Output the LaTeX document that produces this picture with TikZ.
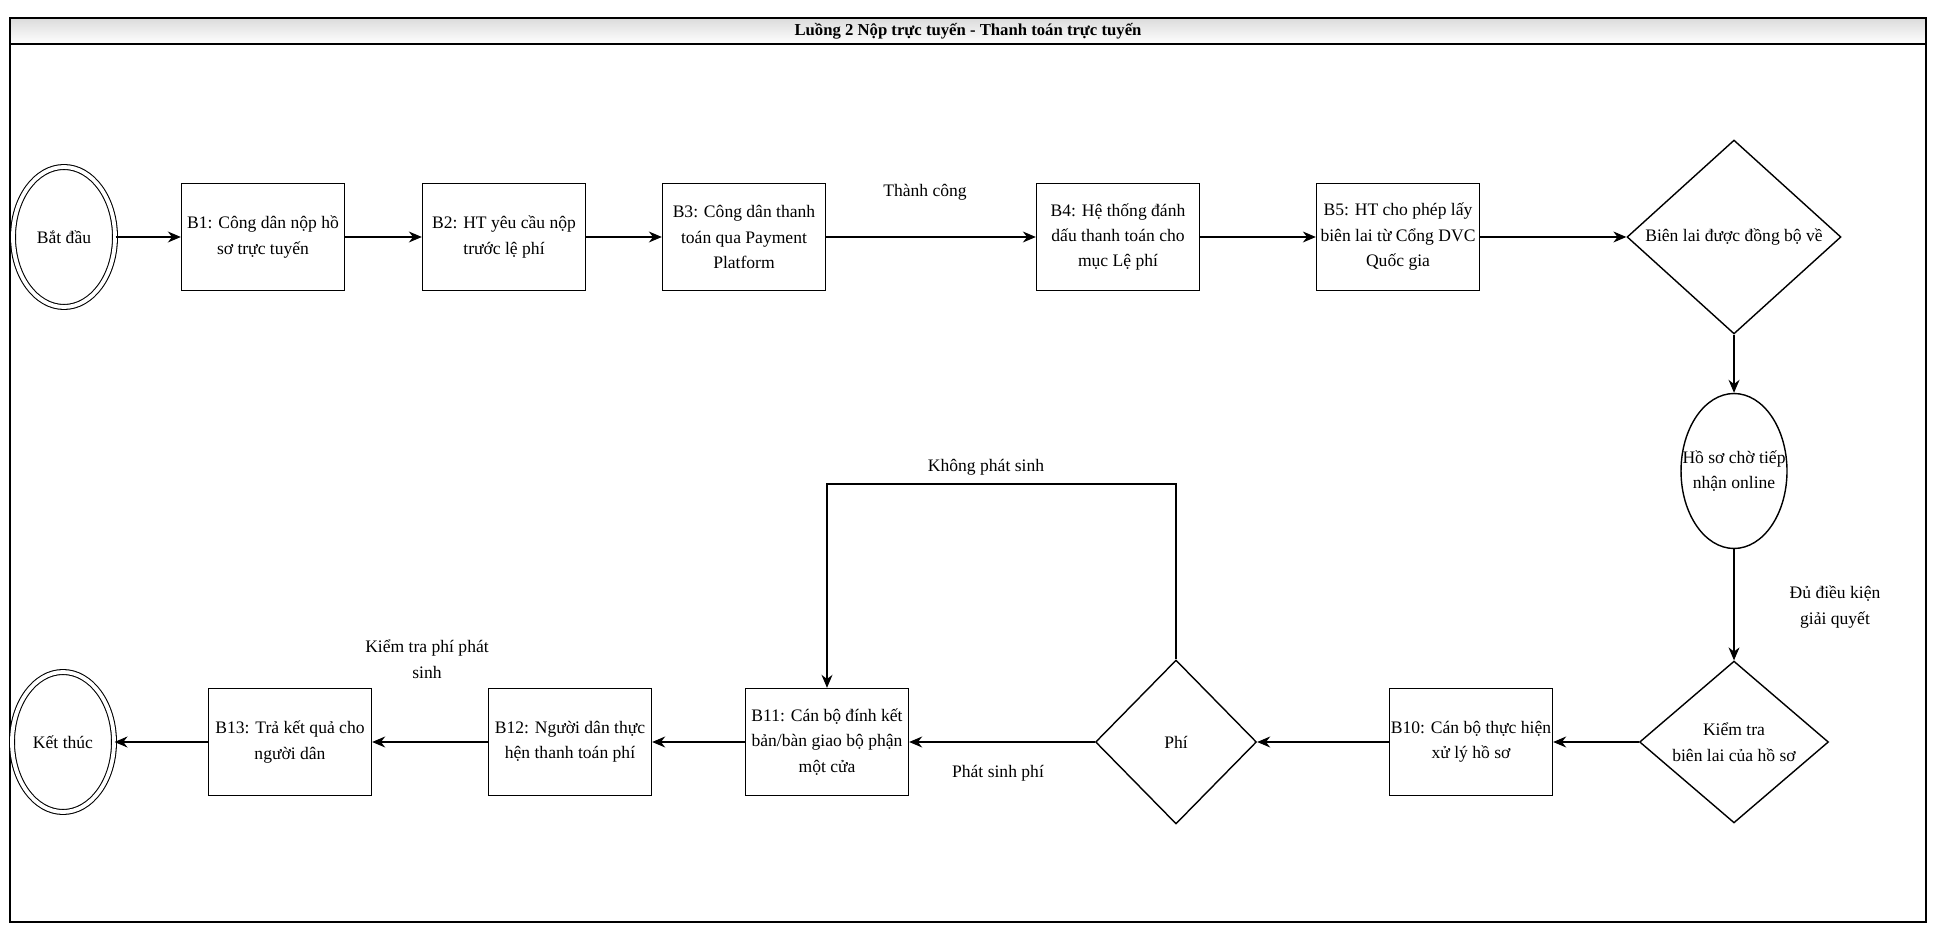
\documentclass[tikz,border=0pt]{standalone}
\usepackage{fontspec}
\setmainfont{Liberation Serif}
\usetikzlibrary{arrows.meta, positioning, shapes.geometric}
\colorlet{colVien}{black}
\colorlet{colNenTieuDe}{black!14}
\tikzset{
  hopCoBan/.style={
    draw=colVien, thick,
    align=center, font=\fontsize{10}{14.5}\selectfont, text=colVien,
    fill=white
  },
  hopBuoc/.style={hopCoBan, minimum width=3.26cm, minimum height=2.14cm, inner sep=0.5pt},
  hinhThoi/.style={hopCoBan, diamond, inner sep=0pt},
  hinhElip/.style={hopCoBan, ellipse, inner sep=0pt},
  hinhMoc/.style={hinhElip, semithick, double, double distance=2.2pt,
    minimum width=2.04cm, minimum height=2.8cm},
  muiTen/.style={-{Stealth[length=2.6mm, width=2.2mm]}, semithick, colVien},
  nhanMuiTen/.style={font=\fontsize{10}{14.5}\selectfont, text=colVien, align=center, inner sep=1pt},
}

\begin{document}
\begin{tikzpicture}[x=0.02cm, y=-0.02cm]
    \useasboundingbox (0,0) rectangle (1933,925);
    % khung va tieu de
    \shade[top color=colNenTieuDe, bottom color=white] (10,18) rectangle (1926,44);
    \draw[line width=1.1pt, colVien] (10,18) rectangle (1926,922);
    \draw[line width=1.1pt, colVien] (10,44) -- (1926,44);
    \node[font=\bfseries\fontsize{9.5}{11}\selectfont] (tieuDe) at (968,31) {Luồng 2 Nộp trực tuyến - Thanh toán trực tuyến};

    % hang tren
    \node[hinhMoc] (batDau) at (64,237) {Bắt đầu};
    \node[hopBuoc] (b1) at (263,237) {B1: Công dân nộp hồ\\sơ trực tuyến};
    \node[hopBuoc] (b2) at (504,237) {B2: HT yêu cầu nộp\\trước lệ phí};
    \node[hopBuoc] (b3) at (744,237) {B3: Công dân thanh\\toán qua Payment\\Platform};
    \node[hopBuoc] (b4) at (1118,237) {B4: Hệ thống đánh\\dấu thanh toán cho\\mục Lệ phí};
    \node[hopBuoc] (b5) at (1398,237) {B5: HT cho phép lấy\\biên lai từ Cổng DVC\\Quốc gia};
    \node[hinhThoi, minimum width=4.28cm, minimum height=3.68cm] (dongBo) at (1734,237) {Biên lai được đồng bộ về};

    % cot phai
    \node[hinhElip, minimum width=2.12cm, minimum height=3.1cm,
      label={[nhanMuiTen]center:Hồ sơ chờ tiếp\\nhận online}] (hoSo) at (1734,471) {};
    \node[hinhThoi, minimum width=3.78cm, minimum height=2.94cm] (kiemTra) at (1734,742) {Kiểm tra\\biên lai của hồ sơ};

    % hang duoi
    \node[hopBuoc] (b10) at (1471,742) {B10: Cán bộ thực hiện\\xử lý hồ sơ};
    \node[hinhThoi, minimum width=3.22cm, minimum height=3.28cm] (phi) at (1176,742) {Phí};
    \node[hopBuoc] (b11) at (827,742) {B11: Cán bộ đính kết\\bản/bàn giao bộ phận\\một cửa};
    \node[hopBuoc] (b12) at (570,742) {B12: Người dân thực\\hện thanh toán phí};
    \node[hopBuoc] (b13) at (290,742) {B13: Trả kết quả cho\\người dân};
    \node[hinhMoc] (ketThuc) at (63,742) {Kết thúc};
    \coordinate (gocPhi) at (1176,484);

    % nhan
    \node[nhanMuiTen] (nhanThanhCong) at (925,192) {Thành công};
    \node[nhanMuiTen] (nhanDuDieuKien) at (1835,607) {Đủ điều kiện\\giải quyết};
    \node[nhanMuiTen] (nhanKhongPhatSinh) at (986,467) {Không phát sinh};
    \node[nhanMuiTen] (nhanPhatSinh) at (998,773) {Phát sinh phí};
    \node[nhanMuiTen] (nhanKiemTraPhi) at (427,659) {Kiểm tra phí phát\\sinh};

    \draw[muiTen] (batDau) -- (b1);
    \draw[muiTen] (b1) -- (b2);
    \draw[muiTen] (b2) -- (b3);
    \draw[muiTen] (b3) -- (b4);
    \draw[muiTen] (b4) -- (b5);
    \draw[muiTen] (b5) -- (dongBo);
    \draw[muiTen] (dongBo) -- (hoSo);
    \draw[muiTen] (hoSo) -- (kiemTra);
    \draw[muiTen] (kiemTra) -- (b10);
    \draw[muiTen] (b10) -- (phi);
    \draw[muiTen] (phi) -- (b11);
    \draw[muiTen] (phi.north) -- (gocPhi) -| (b11.north);
    \draw[muiTen] (b11) -- (b12);
    \draw[muiTen] (b12) -- (b13);
    \draw[muiTen] (b13) -- (ketThuc);
  \end{tikzpicture}
\end{document}
